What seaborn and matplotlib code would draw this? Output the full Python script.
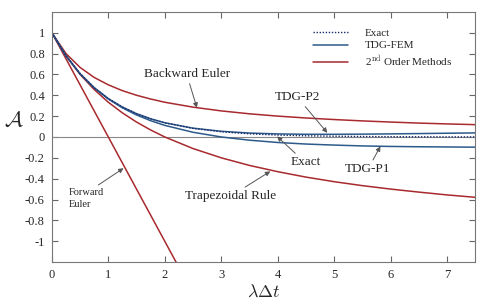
import numpy as np
import pandas as pd
import matplotlib
matplotlib.use("Agg")
import matplotlib.pyplot as plt
import seaborn as sns

# values
x_vals = [0, 0.25, 0.5, 0.75, 1.0, 1.25, 1.5, 1.75, 2.0, 2.5, 3.0, 3.5,
          4.0, 4.5, 5.0, 5.5, 6.0, 6.5, 7.0, 7.5]
backward_euler = [1.0, 0.8, 0.667, 0.571, 0.5, 0.444, 0.4, 0.364, 0.333, 0.286,
                  0.25, 0.222, 0.2, 0.182, 0.167, 0.154, 0.143, 0.133, 0.125, 0.118]
trapezoidal = [1.0, 0.778, 0.6, 0.455, 0.333, 0.231, 0.143, 0.067, 0.0, -0.111,
               -0.2, -0.273, -0.333, -0.385, -0.429, -0.467, -0.5, -0.529, -0.556, -0.579]
exact = [1.0, 0.779, 0.607, 0.472, 0.368, 0.287, 0.223, 0.174, 0.135, 0.082,
         0.05, 0.03, 0.018, 0.011, 0.007, 0.004, 0.0025, 0.0015, 0.0009, 0.0006]
tdg_p1 = [1.0, 0.779, 0.606, 0.471, 0.364, 0.279, 0.211, 0.156, 0.111, 0.045,
          0.0, -0.031, -0.053, -0.068, -0.078, -0.086, -0.091, -0.094, -0.096, -0.098]
tdg_p2 = [1.0, 0.779, 0.6065, 0.4724, 0.3679, 0.2866, 0.2234, 0.1744, 0.1364, 0.0845,
          0.0543, 0.0376, 0.0291, 0.0257, 0.0254, 0.0269, 0.0294, 0.0324, 0.0356, 0.0387]
fe_x = [0, 1, 2, 2.5]
forward_euler = [1, 0, -1, -1.5]

RED = "#a82a2e"
BLUE = "#2c5a8a"

sns.set_style("ticks")
plt.rcParams["font.family"] = ["Liberation Serif", "DejaVu Serif"]
plt.rcParams["mathtext.fontset"] = "cm"

fig, ax = plt.subplots(figsize=(4.8, 3.04), dpi=100)
fig.subplots_adjust(left=0.108, right=0.99, top=0.961, bottom=0.138)

ax.axhline(0, color="#888888", lw=0.8, zorder=1)

df = pd.DataFrame({"x": x_vals, "be": backward_euler, "tr": trapezoidal,
                   "ex": exact, "p1": tdg_p1, "p2": tdg_p2})
sns.lineplot(data=df, x="x", y="be", color=RED, lw=1.1, ax=ax)
sns.lineplot(data=df, x="x", y="tr", color=RED, lw=1.1, ax=ax)
sns.lineplot(x=fe_x, y=forward_euler, color=RED, lw=1.1, ax=ax,
             label="2$^{\\rm nd}$ Order Methods")
sns.lineplot(data=df, x="x", y="p1", color=BLUE, lw=1.1, ax=ax)
sns.lineplot(data=df, x="x", y="p2", color=BLUE, lw=1.1, ax=ax, label="TDG-FEM")
sns.lineplot(data=df, x="x", y="ex", color="#1a2a6c", lw=1.0, ls=(0, (1, 1.2)),
             ax=ax, label="Exact")

ax.set_xlim(0, 7.5)
ax.set_ylim(-1.2, 1.2)
ax.set_xticks(range(0, 8))
ax.set_yticks([-1, -0.8, -0.6, -0.4, -0.2, 0, 0.2, 0.4, 0.6, 0.8, 1])
ax.set_yticklabels(["-1", "-0.8", "-0.6", "-0.4", "-0.2", "0", "0.2", "0.4",
                    "0.6", "0.8", "1"])
ax.tick_params(direction="in", top=True, right=True, labelsize=9, length=4,
               color="#666666", pad=5)
for s in ax.spines.values():
    s.set_color("#777777")
    s.set_linewidth(0.8)

ax.set_xlabel(r"$\lambda\Delta t$", fontsize=13, labelpad=2)
ax.set_ylabel(r"$\mathcal{A}$", fontsize=16, rotation=0, labelpad=2)
ax.yaxis.set_label_coords(-0.09, 0.52)

handles, labels = ax.get_legend_handles_labels()
ax.legend(handles[::-1], labels[::-1], loc="upper right", frameon=False,
          fontsize=8, handlelength=3.2, handletextpad=1.5, labelspacing=0.25,
          bbox_to_anchor=(0.97, 0.975))

arrow = dict(arrowstyle="-|>", color="#555555", lw=0.7, mutation_scale=7,
             shrinkA=0, shrinkB=0)
fs = 9.5
ax.annotate("Backward Euler", xy=(2.57, 0.28), xytext=(2.39, 0.60),
            ha="center", va="center", fontsize=fs, arrowprops=arrow)
ax.annotate("TDG-P2", xy=(4.88, 0.04), xytext=(4.35, 0.38),
            ha="center", va="center", fontsize=fs, arrowprops=arrow)
ax.annotate("Exact", xy=(3.99, 0.005), xytext=(4.49, -0.245),
            ha="center", va="center", fontsize=fs, arrowprops=arrow)
ax.annotate("TDG-P1", xy=(5.82, -0.09), xytext=(5.6, -0.31),
            ha="center", va="center", fontsize=fs, arrowprops=arrow)
ax.annotate("Trapezoidal Rule", xy=(3.87, -0.33), xytext=(3.16, -0.57),
            ha="center", va="center", fontsize=fs, arrowprops=arrow)
ax.annotate("Forward\nEuler", xy=(1.27, -0.30), xytext=(0.3, -0.59),
            ha="left", va="center", fontsize=7.5, linespacing=1.35,
            arrowprops=dict(arrow, relpos=(0.7, 1.0)))

fig.savefig("out.png", dpi=100)
